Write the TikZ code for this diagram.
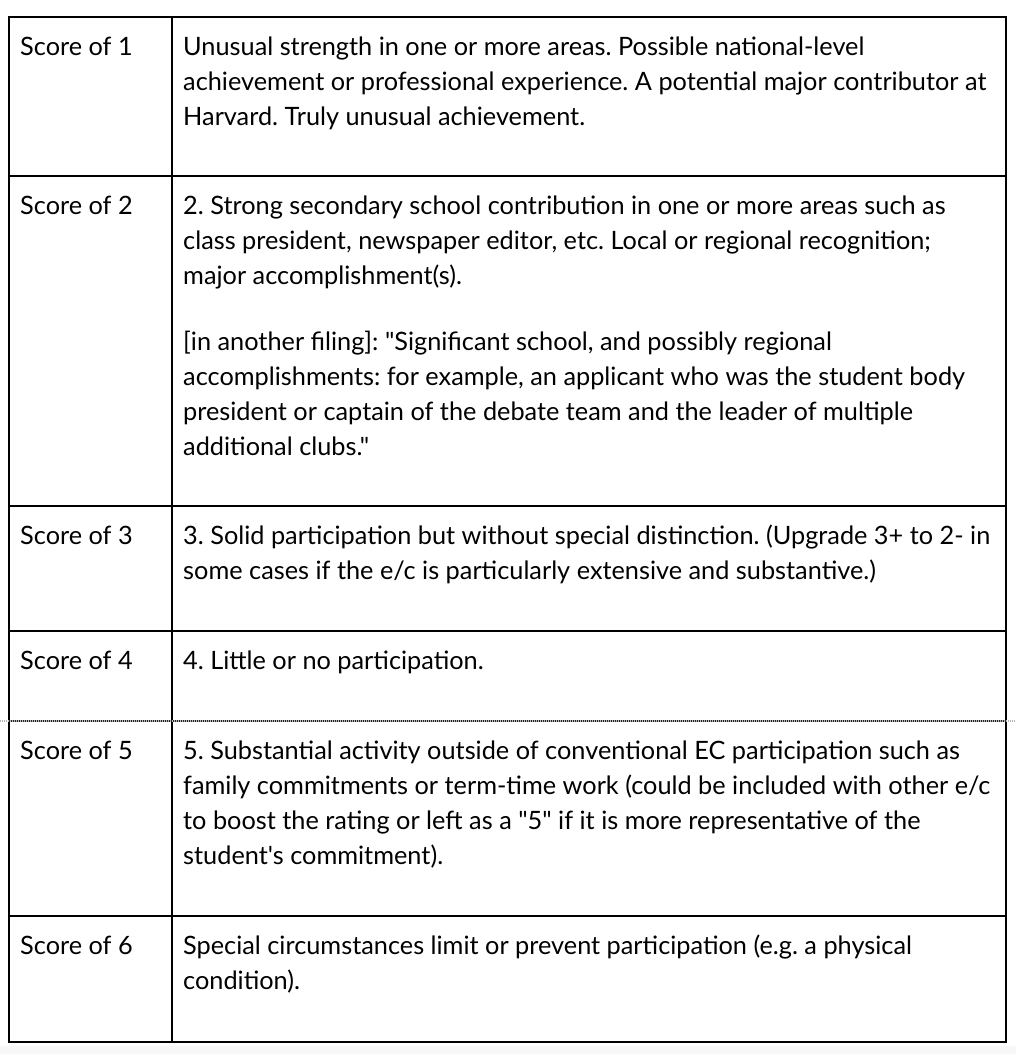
\documentclass[tikz,border=0pt]{standalone}
\usepackage{fontspec}
\setmainfont{Lato}[Ligatures=TeXOff]
\frenchspacing
\begin{document}
\begin{tikzpicture}[x=1pt, y=-1pt]
            \tikzstyle{score} = [anchor=north west, inner sep=0pt, font=\fontsize{25.3}{35}\selectfont]
            \tikzstyle{desc} = [score, align=left]
            \tikzstyle{rule} = [line width=1.6pt]

            \useasboundingbox (0, 0) rectangle (1016, 1054);
            \fill[gray!6] (0, 1046) rectangle (1016, 1054);

            \node[score] (s1) at (20, 31) {\strut Score of 1};
            \node[score] (s2) at (20, 190) {\strut Score of 2};
            \node[score] (s3) at (20, 520) {\strut Score of 3};
            \node[score] (s4) at (20, 645) {\strut Score of 4};
            \node[score] (s5) at (20, 735) {\strut Score of 5};
            \node[score] (s6) at (20, 930) {\strut Score of 6};

            \node[desc] (d1) at (183, 31) {\strut Unusual strength in one or more areas. Possible national-level\\
              achievement or professional experience. A potential major contributor at\\
              Harvard. Truly unusual achievement.};
            \node[desc] (d2) at (183, 190) {\strut 2. Strong secondary school contribution in one or more areas such as\\
              class president, newspaper editor, etc. Local or regional recognition;\\
              major accomplishment(s).\\[31pt]
              [in another filing]: "Significant school, and possibly regional\\
              accomplishments: for example, an applicant who was the student body\\
              president or captain of the debate team and the leader of multiple\\
              additional clubs."};
            \node[desc] (d3) at (183, 520) {\strut 3. Solid participation but without special distinction. (Upgrade 3+ to 2- in\\
              some cases if the e/c is particularly extensive and substantive.)};
            \node[desc] (d4) at (183, 645) {\strut 4. Little or no participation.};
            \node[desc] (d5) at (183, 735) {\strut 5. Substantial activity outside of conventional EC participation such as\\
              family commitments or term-time work (could be included with other e/c\\
              to boost the rating or left as a "5" if it is more representative of the\\
              student's commitment).};
            \node[desc] (d6) at (183, 930) {\strut Special circumstances limit or prevent participation (e.g. a physical\\
              condition).};

            \draw[rule] (9, 17) rectangle (1006, 1042);
            \draw[rule] (172, 17) -- (172, 1042);
            \draw[rule] (9, 176) -- (1006, 176);
            \draw[rule] (9, 506) -- (1006, 506);
            \draw[rule] (9, 631) -- (1006, 631);
            \draw[rule] (9, 916) -- (1006, 916);
            \draw[line width=1.4pt, gray!60, dash pattern=on 1pt off 1pt] (0, 721) -- (1016, 721);
            \draw[line width=1.4pt, black!85, dash pattern=on 1pt off 1pt] (9, 721) -- (1006, 721);
          \end{tikzpicture}
\end{document}
